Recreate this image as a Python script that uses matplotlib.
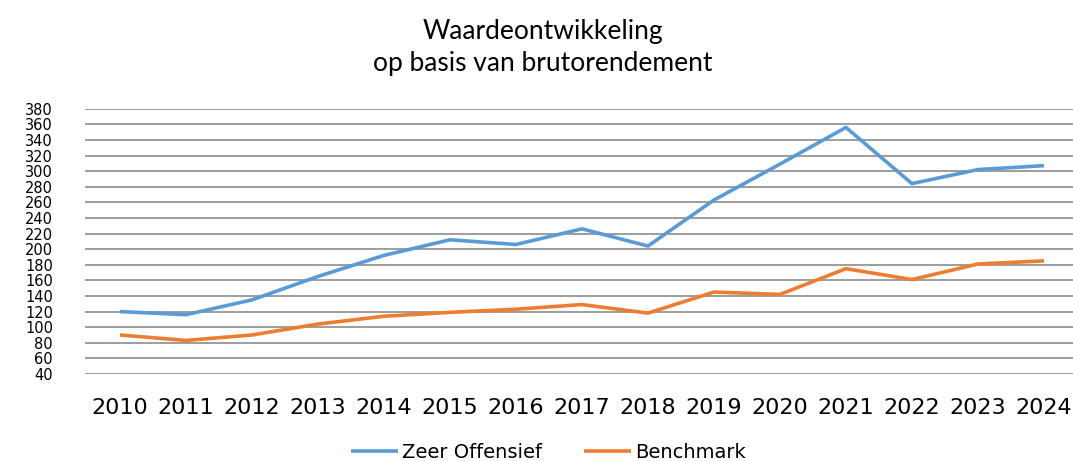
import numpy as np
import matplotlib.pyplot as plt

# data
years = ['2010', '2011', '2012', '2013', '2014', '2015', '2016', '2017',
         '2018', '2019', '2020', '2021', '2022', '2023', '2024']
zeer_offensief = [120, 116, 135, 165, 192, 212, 206, 226, 204, 263, 309, 356, 284, 302, 307]
benchmark = [90, 83, 90, 104, 114, 119, 123, 129, 118, 145, 142, 175, 161, 181, 185]
y_ticks = list(range(40, 381, 20))

fig = plt.figure(figsize=(10.73, 4.61), dpi=100)
ax = fig.add_axes([85 / 1073, 1 - 374 / 461, 988 / 1073, (374 - 108.7) / 461])

x = np.arange(len(years))
ax.plot(x, zeer_offensief, color='#5b9bd5', lw=2.6, label='Zeer Offensief', solid_capstyle='butt')
ax.plot(x, benchmark, color='#ed7d31', lw=2.6, label='Benchmark', solid_capstyle='butt')

ax.set_xlim(-0.53, 14.44)
ax.set_ylim(40, 380)
ax.set_yticks(y_ticks)
ax.set_yticklabels([str(v) for v in y_ticks], fontsize=10.5)
ax.set_xticks(x)
ax.set_xticklabels(years, fontsize=16)
ax.tick_params(axis='x', length=0, pad=17)
ax.tick_params(axis='y', length=0, pad=23)
ax.grid(axis='y', color='#8c8c8c', lw=1.2)
ax.set_axisbelow(True)
for s in ax.spines.values():
    s.set_visible(False)

fig.text(0.506, 1 - 32 / 461, 'Waardeontwikkeling', ha='center', va='center',
         fontsize=19, family='Lato')
fig.text(0.506, 1 - 64 / 461, 'op basis van brutorendement', ha='center', va='center',
         fontsize=19, family='Lato')

fig.legend(loc='center', bbox_to_anchor=(0.511, 1 - 452 / 461), ncol=2, frameon=False,
           fontsize=14, handlelength=2.4, handletextpad=0.2, columnspacing=2.2)

fig.savefig('out.png', dpi=100)
